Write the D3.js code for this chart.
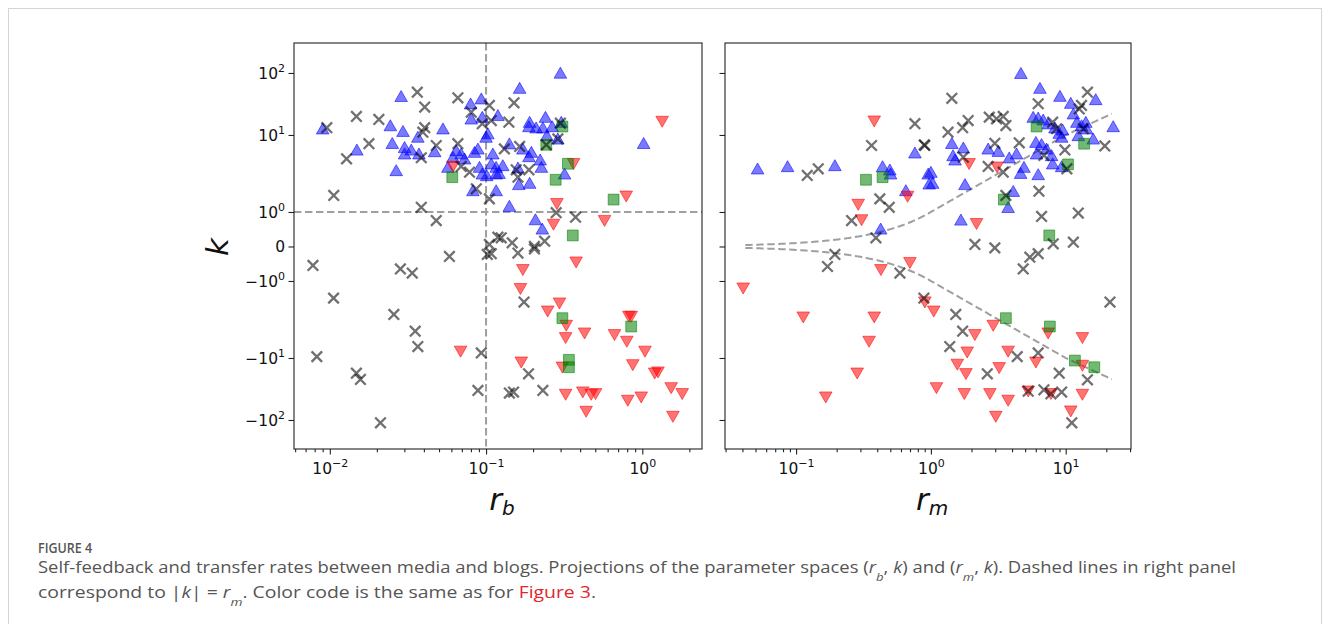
<!DOCTYPE html>
<html><head><meta charset="utf-8">
<script src="https://cdn.jsdelivr.net/npm/d3@7"></script>
<style>body{margin:0;background:#fff}svg{display:block}</style>
</head><body>
<svg id="c" width="1330" height="624"></svg>
<script>
// ---------- DATA ----------
// left panel: [r_b, k]
const leftBlue = [[0.009,12.6],[0.0286,42],[0.0244,14.2],[0.0294,11.5],[0.0366,9.4],[0.053,12.6],[0.0149,6.4],[0.0251,7.8],[0.0301,6.9],[0.0332,6.4],[0.0301,5.7],[0.0372,5.7],[0.0469,6.1],[0.0266,3.46],[0.0796,31.9],[0.0932,38.4],[0.0804,18.2],[0.0946,19.4],[0.119,20.7],[0.1027,10.5],[0.1,9.4],[0.0644,6.3],[0.0693,5.7],[0.0614,5.15],[0.0728,4.91],[0.0844,5.98],[0.0887,6.6],[0.1105,5.7],[0.108,4.23],[0.116,3.82],[0.057,3.82],[0.0908,3.82],[0.0946,3.13],[0.101,2.98],[0.116,3.13],[0.0824,1.9],[0.116,1.9],[0.299,100],[0.164,56.9],[0.19,16.1],[0.188,13.7],[0.209,13.1],[0.24,19.4],[0.231,13.1],[0.265,13.7],[0.303,16.1],[0.245,9.85],[0.288,8.9],[0.141,7.7],[0.172,6.6],[0.195,5.98],[0.188,5.26],[0.128,4.02],[0.121,3.19],[0.16,3.75],[0.222,4.76],[0.226,3.82],[0.162,2.28],[0.19,2.37],[0.141,1.19],[1.02,7.8],[0.318,3.13],[0.207,0.78],[0.229,0.51]];
const leftRed = [[0.0614,3.9],[1.34,16.5],[0.363,4.23],[0.789,1.6],[0.284,1.28],[0.573,0.75],[0.27,0.64],[0.0687,-8.2],[0.172,-0.675],[0.377,-0.455],[0.166,-1.26],[0.295,-1.94],[0.248,-2.47],[0.326,-3.78],[0.323,-5.47],[0.427,-4.76],[0.849,-2.89],[0.82,-2.89],[0.664,-5.0],[0.796,-6.1],[1.04,-8.2],[0.168,-11.7],[0.308,-14.1],[0.869,-12.9],[1.2,-17.6],[1.26,-16.9],[0.323,-38.8],[0.416,-35.5],[0.471,-38.8],[0.502,-37.8],[0.437,-72.9],[0.807,-48.4],[0.984,-42.8],[1.53,-30.3],[1.8,-37.8],[1.57,-87.9]];
const leftGreen = [[0.0608,2.83],[0.308,13.7],[0.243,7.46],[0.334,4.23],[0.279,2.62],[0.655,1.45],[0.359,0.32],[0.308,-3.04],[0.849,-3.9],[0.339,-10.7],[0.339,-14.1]];
const leftGray = [[0.00957,13.1],[0.0148,19.9],[0.0206,17.8],[0.0363,49],[0.0405,28.2],[0.0405,13.1],[0.0394,11.1],[0.0178,7.7],[0.0128,4.91],[0.0385,5.06],[0.048,7.3],[0.0106,1.64],[0.0385,1.15],[0.048,0.75],[0.066,39.8],[0.105,29.9],[0.0804,23.3],[0.0946,15.2],[0.108,17.1],[0.066,7.7],[0.0693,3.9],[0.0784,3.29],[0.0866,2.0],[0.105,1.48],[0.105,0.058],[0.119,0.27],[0.151,33],[0.14,16.1],[0.299,15.5],[0.288,8.9],[0.243,7.46],[0.131,6.6],[0.164,7.1],[0.156,3.53],[0.188,3.53],[0.16,2.83],[0.281,0.98],[0.374,0.85],[0.125,0.25],[0.147,0.107],[0.237,0.154],[0.204,0.0],[0.0078,-0.55],[0.01057,-1.67],[0.0283,-0.65],[0.0337,-0.77],[0.0583,-0.29],[0.1018,-0.23],[0.0257,-2.72],[0.0352,-4.49],[0.0366,-7.1],[0.00826,-9.6],[0.0932,-8.6],[0.0148,-17.6],[0.0157,-22.2],[0.0887,-33.4],[0.0211,-111],[0.108,-0.21],[0.16,-0.19],[0.204,-0.07],[0.175,-1.88],[0.187,-18],[0.141,-36.8],[0.15,-35.5],[0.231,-33.4]];
// right panel: [r_m, k]
const rightBlue = [[0.0518,3.64],[0.0865,3.9],[0.194,4.02],[0.761,5.87],[0.438,3.9],[0.496,3.53],[0.502,3.13],[0.955,3.13],[0.971,2.32],[0.652,1.9],[0.424,0.51],[4.65,99],[6.44,56.9],[9.06,42.3],[16.7,37.4],[10.9,32.6],[11.4,22],[22.5,13.7],[5.74,19.4],[6.25,18.9],[6.81,17.6],[7.41,15.2],[8.32,13.1],[8.95,10.7],[9.33,9.4],[9.48,12.1],[12.1,16.1],[13.1,14.2],[14.1,16.1],[14.3,12.6],[12.4,9.85],[16,8.9],[1.43,7.8],[1.74,6.82],[1.46,5.42],[1.51,4.76],[2.66,6.6],[3.16,6.16],[3.81,5.06],[4.32,5.7],[4.9,3.82],[4.63,3.19],[6.01,8.06],[6.62,7.55],[6.08,5.7],[7.21,6.6],[7.86,5.42],[8.0,4.23],[9.33,3.9],[6.25,3.07],[1.0,3.29],[1.03,2.37],[1.79,2.28],[4.08,1.86],[3.74,1.15],[1.67,0.77]];
const rightRed = [[0.38,16.7],[0.672,1.59],[0.289,1.25],[0.306,0.77],[1.92,4.23],[3.1,3.82],[2.18,0.66],[0.426,-0.675],[0.699,-0.47],[0.0405,-1.24],[0.902,-1.88],[0.113,-2.95],[0.38,-2.95],[0.348,-6.1],[0.284,-17.6],[0.166,-42.8],[1.05,-2.47],[2.12,-5.0],[2.9,-3.78],[7.41,-4.76],[13.3,-5.47],[1.86,-8.4],[3.74,-8.2],[6.01,-11.7],[13.3,-13.2],[1.57,-12.7],[1.82,-18],[3.21,-14.4],[1.1,-30.3],[1.77,-37.8],[2.74,-37.8],[3.74,-48.4],[3.03,-87.9],[5.27,-34.3],[7.77,-37.8],[13.3,-38.8],[10.9,-72]];
const rightGreen = [[0.33,2.62],[0.438,2.83],[6.08,13.7],[13.7,7.7],[10.4,4.15],[3.48,1.45],[7.55,0.32],[3.6,-3.04],[7.63,-3.9],[11.7,-11],[16.3,-14.1]];
const rightGray = [[0.121,2.98],[0.146,3.64],[0.761,15.2],[0.363,7.3],[0.902,7.3],[0.418,1.48],[0.491,1.15],[0.258,0.75],[0.391,0.25],[1.43,39],[14.5,49],[13.1,29.9],[12.6,26.3],[6.25,31.9],[1.89,17.1],[1.72,13.1],[2.71,19.4],[3.07,18.2],[3.44,19.9],[3.6,14.2],[1.34,11.1],[0.892,7.46],[8.0,16.1],[8.56,12.6],[13.5,12.6],[19.5,7.2],[1.74,5.15],[2.98,7.8],[4.52,7.9],[2.66,3.9],[3.44,3.29],[6.89,5.42],[9.86,6.4],[10.2,3.64],[6.33,1.86],[3.6,1.64],[6.62,0.87],[12.4,0.97],[8.08,0.078],[11.4,0.125],[2.12,0.058],[2.98,-0.04],[0.194,-0.23],[0.171,-0.58],[0.589,-0.77],[0.887,-1.67],[6.25,-0.21],[5.42,-0.31],[4.84,-0.65],[21.3,-1.88],[1.53,-2.72],[1.72,-4.49],[1.38,-7.1],[4.37,-9.6],[6.25,-8.6],[14.5,-22.5],[8.95,-17.6],[2.62,-18],[5.27,-34.3],[6.89,-32.6],[7.77,-37.8],[9.33,-35.5],[11.1,-111]];

const yTickValues = [100, 10, 1, 0, -1, -10, -100];
const yTickLabels = [["10","2"],["10","1"],["10","0"],["0",""],["\u221210","0"],["\u221210","1"],["\u221210","2"]];
const xTicksLeft = [0.01, 0.1, 1];
const xTickLabelsLeft = [["10","\u22122"],["10","\u22121"],["10","0"]];
const xTicksRight = [0.1, 1, 10];
const xTickLabelsRight = [["10","\u22121"],["10","0"],["10","1"]];
const refLineRange = [0.042, 22];   // |k| = r_m reference curves
const leftRefK = 1, leftRefRb = 0.1;

// ---------- LAYOUT ----------
const svg = d3.select('#c');
svg.append('rect').attr('x',8.5).attr('y',8.5).attr('width',1313).attr('height',720)
  .attr('fill','none').attr('stroke','#d4d4d4').attr('stroke-width',1);

const yTop = 43, yBot = 449;
const panels = [
  {x0:294, x1:702, domain:[0.0059,2.41], data:{blue:leftBlue,red:leftRed,green:leftGreen,gray:leftGray},
   ticks:xTicksLeft, labels:xTickLabelsLeft, ylabels:true, xlab:"b"},
  {x0:725, x1:1131, domain:[0.0297,30.5], data:{blue:rightBlue,red:rightRed,green:rightGreen,gray:rightGray},
   ticks:xTicksRight, labels:xTickLabelsRight, ylabels:false, xlab:"m"}
];

// custom symmetric-log style transform of k (tick spacing measured from figure)
function T(v){
  const a=Math.abs(v), s=Math.sign(v);
  let h;
  if(a<=1) h=a;
  else if(a<=10) h=1+2.232*Math.log10(a);
  else h=3.232+1.797*Math.log10(a/10);
  return s*h;
}
const yLin = d3.scaleLinear().domain([-5.870,5.898]).range([yBot, yTop]);
const Y = v => yLin(T(v));

const FONT = "'DejaVu Sans', sans-serif";
const TFS = 15.5, SFS = 11;
const colors = {
  blue:{fill:'rgba(0,0,255,0.52)', stroke:'rgba(0,0,255,0.55)'},
  red:{fill:'rgba(255,0,0,0.55)', stroke:'rgba(255,0,0,0.55)'},
  green:{fill:'rgba(0,128,0,0.55)', stroke:'rgba(0,128,0,0.55)'}
};

const triUp = `M0,-5.8L6.3,5.2L-6.3,5.2Z`;
const triDown = `M0,5.8L6.3,-5.2L-6.3,-5.2Z`;
const sq = `M-5.4,-5.4H5.4V5.4H-5.4Z`;
const xm = `M-5.3,-5.3L5.3,5.3M-5.3,5.3L5.3,-5.3`;

panels.forEach(p=>{
  const X = d3.scaleLog().domain(p.domain).range([p.x0, p.x1]);
  const g = svg.append('g');
  const clipId = 'clip'+p.x0;
  svg.append('clipPath').attr('id',clipId).append('rect')
    .attr('x',p.x0).attr('y',yTop).attr('width',p.x1-p.x0).attr('height',yBot-yTop);

  const plot = g.append('g').attr('clip-path',`url(#${clipId})`);

  const dashStyle = s => s.attr('fill','none').attr('stroke','#9f9f9f').attr('stroke-width',2).attr('stroke-dasharray','7.4,3.6');
  if(p.ylabels){
    plot.append('line').attr('x1',p.x0).attr('x2',p.x1).attr('y1',Y(leftRefK)).attr('y2',Y(leftRefK)).call(dashStyle);
    plot.append('line').attr('x1',X(leftRefRb)).attr('x2',X(leftRefRb)).attr('y1',yTop).attr('y2',yBot).call(dashStyle);
  } else {
    const l0 = Math.log(refLineRange[0]), l1 = Math.log(refLineRange[1]);
    const rs = d3.range(0,301).map(i=>Math.exp(l0 + i/300*(l1-l0)));
    const line = d3.line().x(d=>X(d[0])).y(d=>Y(d[1]));
    plot.append('path').attr('d', line(rs.map(r=>[r, r]))).call(dashStyle);
    plot.append('path').attr('d', line(rs.map(r=>[r,-r]))).call(dashStyle);
  }

  const drawSet = (arr, path, c) => plot.append('g').selectAll('path').data(arr).join('path')
    .attr('transform', d=>`translate(${X(d[0])},${Y(d[1])})`).attr('d', path)
    .attr('fill', c.fill).attr('stroke', c.stroke).attr('stroke-width',1);
  drawSet(p.data.blue, triUp, colors.blue);
  drawSet(p.data.red, triDown, colors.red);
  drawSet(p.data.green, sq, colors.green);
  plot.append('g').selectAll('path').data(p.data.gray).join('path')
    .attr('transform', d=>`translate(${X(d[0])},${Y(d[1])})`).attr('d', xm)
    .attr('fill','none').attr('stroke','rgba(0,0,0,0.56)').attr('stroke-width',2.3);

  g.append('rect').attr('x',p.x0).attr('y',yTop).attr('width',p.x1-p.x0).attr('height',yBot-yTop)
    .attr('fill','none').attr('stroke','#222').attr('stroke-width',1.1);

  const xa = g.append('g').attr('transform',`translate(0,${yBot})`)
    .call(d3.axisBottom(X).tickValues(p.ticks).tickSize(5.5).tickSizeOuter(0).tickFormat(''));
  const minors = [];
  const lo = Math.floor(Math.log10(p.domain[0])), hi = Math.ceil(Math.log10(p.domain[1]));
  for(let e=lo;e<hi;e++) for(let m=2;m<=9;m++){ const v=m*Math.pow(10,e); if(v>=p.domain[0]&&v<=p.domain[1]) minors.push(v); }
  g.append('g').attr('transform',`translate(0,${yBot})`)
    .call(d3.axisBottom(X).tickValues(minors).tickSize(3.2).tickSizeOuter(0).tickFormat(''))
    .call(s=>s.select('.domain').remove());
  xa.select('.domain').remove();
  g.selectAll('.tick line').attr('stroke','#222').attr('stroke-width',1.1);
  xa.selectAll('.tick').each(function(d,i){
    const t = d3.select(this).append('text').attr('y',25).attr('text-anchor','middle')
      .attr('font-family',FONT).attr('font-size',TFS).attr('fill','#111');
    t.append('tspan').text(p.labels[i][0]);
    t.append('tspan').attr('dy',-7).attr('font-size',SFS).text(p.labels[i][1]);
  });

  const ya = g.append('g').attr('transform',`translate(${p.x0},0)`)
    .call(d3.axisLeft(yLin).tickValues(yTickValues.map(T)).tickSize(5.5).tickSizeOuter(0).tickFormat(''));
  ya.select('.domain').remove();
  ya.selectAll('line').attr('stroke','#222').attr('stroke-width',1.1);
  if(p.ylabels){
    ya.selectAll('.tick').each(function(d,i){
      const t = d3.select(this).append('text').attr('x',-9).attr('y',5.5).attr('text-anchor','end')
        .attr('font-family',FONT).attr('font-size',TFS).attr('fill','#111');
      t.append('tspan').text(yTickLabels[i][0]);
      if(yTickLabels[i][1]) t.append('tspan').attr('dy',-7).attr('font-size',SFS).text(yTickLabels[i][1]);
    });
  }

  const xl = svg.append('text').attr('x',(p.x0+p.x1)/2+4).attr('y',510).attr('text-anchor','middle')
    .attr('font-family',FONT).attr('font-style','italic').attr('font-size',31).attr('fill','#111');
  xl.append('tspan').text('r');
  xl.append('tspan').attr('dy',5).attr('font-size',20).text(p.xlab);
});

svg.append('text').attr('transform','translate(228,247) rotate(-90)').attr('text-anchor','middle')
  .attr('font-family',FONT).attr('font-style','italic').attr('font-size',31).attr('fill','#111').text('k');

const CF = "'Open Sans', 'Noto Sans', sans-serif";
svg.append('text').attr('x',38).attr('y',553).attr('font-family',CF).attr('font-size',13.5)
  .attr('font-weight',600).attr('fill','#555').attr('textLength',54).attr('lengthAdjust','spacingAndGlyphs').text('FIGURE 4');

const seg = (t, parts) => parts.forEach(pt=>{
  const s = t.append('tspan').text(pt.t);
  if(pt.i) s.attr('font-style','italic');
  if(pt.sub) s.attr('baseline-shift','sub').attr('font-size',11);
  if(pt.c) s.attr('fill',pt.c);
});
const l1 = svg.append('text').attr('x',38).attr('y',573).attr('font-family',CF).attr('font-size',15.5)
  .attr('fill','#555').attr('textLength',1198).attr('lengthAdjust','spacingAndGlyphs');
seg(l1,[{t:'Self-feedback and transfer rates between media and blogs. Projections of the parameter spaces ('},
  {t:'r',i:1},{t:'b',i:1,sub:1},{t:', '},{t:'k',i:1},{t:') and ('},{t:'r',i:1},{t:'m',i:1,sub:1},{t:', '},{t:'k',i:1},
  {t:'). Dashed lines in right panel'}]);
const l2 = svg.append('text').attr('x',38).attr('y',598).attr('font-family',CF).attr('font-size',15.5)
  .attr('fill','#555').attr('textLength',558).attr('lengthAdjust','spacingAndGlyphs');
seg(l2,[{t:'correspond to |'},{t:'k',i:1},{t:'| = '},{t:'r',i:1},{t:'m',i:1,sub:1},{t:'. Color code is the same as for '},
  {t:'Figure 3',c:'#e0262b'},{t:'.'}]);
</script>
</body></html>
